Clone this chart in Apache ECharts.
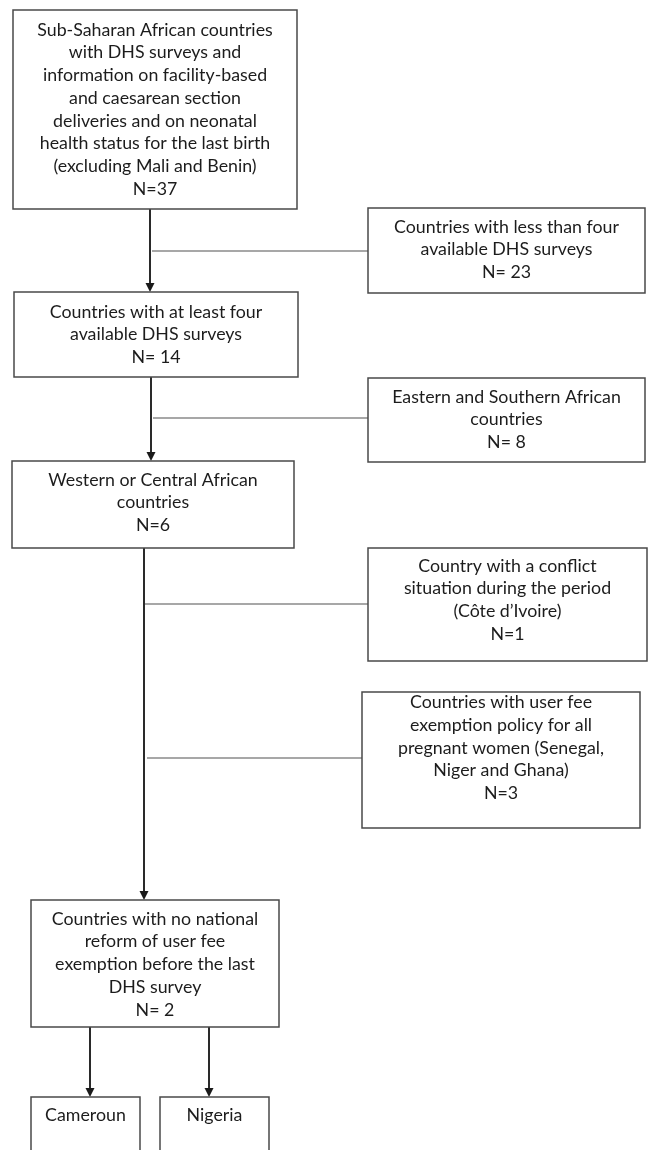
<!DOCTYPE html>
<html>
<head>
<meta charset="utf-8">
<script src="https://cdn.jsdelivr.net/npm/echarts@6/dist/echarts.min.js"></script>
<style>
html,body{margin:0;padding:0;background:#fff;}
#chart{width:649px;height:1150px;}
</style>
</head>
<body>
<div id="chart"></div>
<script>
// ---- data ----
var mainSteps = [
  'Sub-Saharan African countries\nwith DHS surveys and\ninformation on facility-based\nand caesarean section\ndeliveries and on neonatal\nhealth status for the last birth\n(excluding Mali and Benin)',
  'Countries with at least four\navailable DHS surveys',
  'Western or Central African\ncountries',
  'Countries with no national\nreform of user fee\nexemption before the last\nDHS survey'
];
var mainCounts = [37, 14, 6, 2];
var mainCountSpaced = [false, true, false, true];

var excludedSteps = [
  'Countries with less than four\navailable DHS surveys',
  'Eastern and Southern African\ncountries',
  'Country with a conflict\nsituation during the period\n(Côte d\u2019Ivoire)',
  'Countries with user fee\nexemption policy for all\npregnant women (Senegal,\nNiger and Ghana)'
];
var excludedCounts = [23, 8, 1, 3];
var excludedCountSpaced = [true, true, false, false];

var outcomes = ['Cameroun', 'Nigeria'];

// ---- layout (positions in page pixels, mapped through hidden value axes) ----
var mainBoxLayout = [
  [13, 10, 297, 209, 20],
  [14, 292, 298, 377, 20],
  [12, 461, 294, 548, 19],
  [31, 900, 279, 1027, 19]
];
var excludedBoxLayout = [
  [368, 208, 645, 293, 19],
  [368, 378, 645, 462, 19],
  [368, 548, 647, 661, 18],
  [362, 692, 640, 828, 10.5]
];
var outcomeBoxLayout = [
  [31, 1097, 140, 1165, 18],
  [160, 1097, 269, 1165, 18]
];
var arrowLayout = [
  [150, 209, 292],
  [151, 377, 461],
  [144, 548, 900],
  [90, 1027, 1097],
  [209, 1027, 1097]
];
var branchLayout = [
  [152, 368, 251],
  [153, 368, 418],
  [144, 368, 604],
  [147, 362, 758]
];

function countText(n, spaced) { return 'N=' + (spaced ? ' ' : '') + n; }

var boxes = [];
mainSteps.forEach(function (t, i) {
  boxes.push({ text: t + '\n' + countText(mainCounts[i], mainCountSpaced[i]), box: mainBoxLayout[i] });
});
excludedSteps.forEach(function (t, i) {
  boxes.push({ text: t + '\n' + countText(excludedCounts[i], excludedCountSpaced[i]), box: excludedBoxLayout[i] });
});
outcomes.forEach(function (t, i) {
  boxes.push({ text: t, box: outcomeBoxLayout[i] });
});

var FONT = 'Lato, "Open Sans", sans-serif';
var FS = 17.8;
var LH = 22.7;

var chart = echarts.init(document.getElementById('chart'), null, { renderer: 'canvas' });
chart.setOption({
  animation: false,
  backgroundColor: '#ffffff',
  grid: { left: 0, right: 0, top: 0, bottom: 0 },
  xAxis: { type: 'value', min: 0, max: 649, show: false },
  yAxis: { type: 'value', min: 0, max: 1150, inverse: true, show: false },
  series: [
    {
      type: 'custom',
      name: 'branches',
      coordinateSystem: 'cartesian2d',
      data: branchLayout.map(function (b, i) { return [i]; }),
      renderItem: function (params, api) {
        var b = branchLayout[params.dataIndex];
        var p1 = api.coord([b[0], b[2]]);
        var p2 = api.coord([b[1], b[2]]);
        return {
          type: 'line',
          shape: { x1: p1[0], y1: p1[1], x2: p2[0], y2: p2[1] },
          style: { stroke: '#8a8a8a', lineWidth: 1.5 }
        };
      },
      silent: true,
      z: 1
    },
    {
      type: 'custom',
      name: 'arrows',
      coordinateSystem: 'cartesian2d',
      data: arrowLayout.map(function (a, i) { return [i]; }),
      renderItem: function (params, api) {
        var a = arrowLayout[params.dataIndex];
        var p1 = api.coord([a[0], a[1]]);
        var p2 = api.coord([a[0], a[2]]);
        var hw = 4.5, hh = 9;
        return {
          type: 'group',
          children: [
            {
              type: 'line',
              shape: { x1: p1[0], y1: p1[1], x2: p2[0], y2: p2[1] - hh + 1 },
              style: { stroke: '#2a2a2a', lineWidth: 2 }
            },
            {
              type: 'polygon',
              shape: { points: [[p2[0] - hw, p2[1] - hh], [p2[0] + hw, p2[1] - hh], [p2[0], p2[1]]] },
              style: { fill: '#1a1a1a' }
            }
          ]
        };
      },
      silent: true,
      z: 2
    },
    {
      type: 'custom',
      name: 'boxes',
      coordinateSystem: 'cartesian2d',
      data: boxes.map(function (b, i) { return [i]; }),
      renderItem: function (params, api) {
        var d = boxes[params.dataIndex];
        var b = d.box;
        var tl = api.coord([b[0], b[1]]);
        var br = api.coord([b[2], b[3]]);
        var cx = (tl[0] + br[0]) / 2;
        return {
          type: 'group',
          children: [
            {
              type: 'rect',
              shape: { x: tl[0], y: tl[1], width: br[0] - tl[0], height: br[1] - tl[1] },
              style: { fill: '#ffffff', stroke: '#4a4a4a', lineWidth: 1.5 }
            },
            {
              type: 'text',
              x: cx,
              y: tl[1] + b[4] - LH / 2,
              style: {
                text: d.text,
                fill: '#1c1c1c',
                font: FS + 'px ' + FONT,
                lineHeight: LH,
                align: 'center',
                verticalAlign: 'top'
              }
            }
          ]
        };
      },
      silent: true,
      z: 3
    }
  ]
});
</script>
</body>
</html>
